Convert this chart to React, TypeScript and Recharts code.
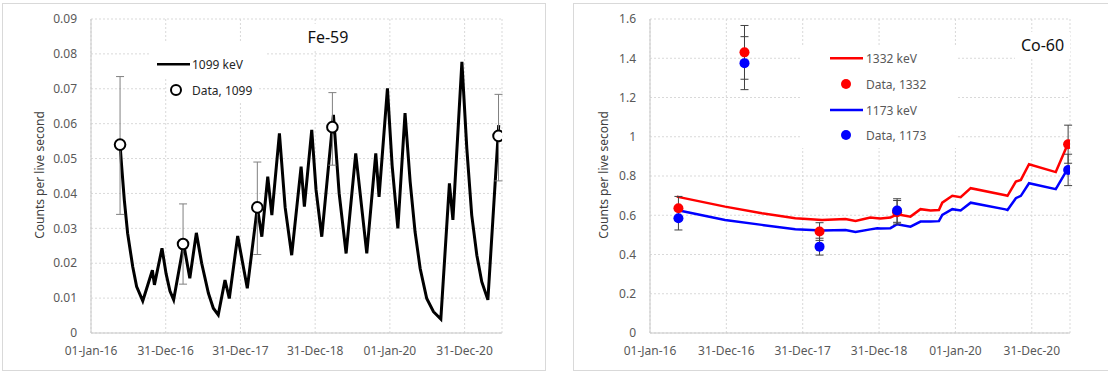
import React from 'react';
import { ComposedChart, Line, Scatter, XAxis, YAxis, CartesianGrid, ErrorBar, Legend } from 'recharts';

// ---- shared x axis (days since 01-Jan-16) ----
const xTickDays = [0, 365.25, 730.5, 1095.75, 1461, 1826.25];
const xTickLabels = ['01-Jan-16', '31-Dec-16', '31-Dec-17', '31-Dec-18', '01-Jan-20', '31-Dec-20'];
const xMaxDay = 2009;

// ---- Fe-59 ----
const feYTicks = [0, 0.01, 0.02, 0.03, 0.04, 0.05, 0.06, 0.07, 0.08, 0.09];
const feYLabels = ['0', '0.01', '0.02', '0.03', '0.04', '0.05', '0.06', '0.07', '0.08', '0.09'];
const feLineDays = [142, 150, 163, 179, 204, 223, 253, 300, 310, 347, 367, 386, 404, 453, 483, 515, 541, 574, 598, 622, 655, 676, 717, 764, 813, 835, 864, 884, 921, 949, 981, 1027, 1043, 1079, 1100, 1128, 1185, 1213, 1247, 1294, 1348, 1392, 1408, 1449, 1472, 1500, 1535, 1560, 1584, 1609, 1641, 1674, 1710, 1752, 1769, 1813, 1837, 1861, 1886, 1910, 1940, 1993];
const feLineVals = [0.054, 0.0477, 0.038, 0.0286, 0.019, 0.0133, 0.0092, 0.018, 0.0138, 0.0243, 0.017, 0.012, 0.0095, 0.0255, 0.0157, 0.0287, 0.02, 0.0114, 0.0071, 0.0052, 0.0152, 0.0099, 0.0278, 0.0128, 0.036, 0.0276, 0.0448, 0.0338, 0.0572, 0.036, 0.0223, 0.0477, 0.0362, 0.0582, 0.041, 0.0276, 0.0625, 0.04, 0.0228, 0.0515, 0.0228, 0.0515, 0.039, 0.0701, 0.048, 0.03, 0.063, 0.0434, 0.029, 0.0185, 0.0099, 0.0061, 0.004, 0.0429, 0.0324, 0.0777, 0.0529, 0.0338, 0.0223, 0.0147, 0.0095, 0.0596];
const feDataDays = [142, 450, 813, 1180, 1992];
const feDataVals = [0.054, 0.0255, 0.036, 0.059, 0.0565];
const feDataErrLow = [0.02, 0.0115, 0.0135, 0.0109, 0.0129];
const feDataErrHigh = [0.0195, 0.0115, 0.013, 0.0099, 0.0119];

// ---- Co-60 ----
const coYTicks = [0, 0.2, 0.4, 0.6, 0.8, 1, 1.2, 1.4, 1.6];
const coYLabels = ['0', '0.2', '0.4', '0.6', '0.8', '1', '1.2', '1.4', '1.6'];
const coLineDays = [128, 359, 535, 695, 823, 935, 983, 1054, 1087, 1103, 1150, 1182, 1246, 1294, 1342, 1382, 1398, 1446, 1486, 1534, 1700, 1710, 1750, 1774, 1813, 1941, 1997];
const co1332Line = [0.695, 0.644, 0.61, 0.585, 0.576, 0.581, 0.571, 0.588, 0.585, 0.583, 0.588, 0.605, 0.593, 0.631, 0.624, 0.627, 0.664, 0.699, 0.692, 0.738, 0.702, 0.699, 0.772, 0.78, 0.86, 0.82, 0.959];
const co1173Line = [0.627, 0.576, 0.551, 0.529, 0.522, 0.525, 0.515, 0.528, 0.534, 0.533, 0.534, 0.554, 0.542, 0.568, 0.568, 0.57, 0.602, 0.631, 0.624, 0.664, 0.63, 0.627, 0.687, 0.699, 0.763, 0.733, 0.835];
const coDataDays = [136, 452, 811, 1182, 2000];
const co1332Data = [0.636, 1.43, 0.517, 0.615, 0.962];
const co1332Err = [0.06, 0.137, 0.045, 0.06, 0.097];
const co1173Data = [0.585, 1.375, 0.44, 0.624, 0.831];
const co1173Err = [0.06, 0.135, 0.043, 0.06, 0.08];

// ---- build series tables ----
const feLine = feLineDays.map((d, i) => ({ day: d, v: feLineVals[i] }));
const feData = feDataDays.map((d, i) => ({ day: d, v: feDataVals[i], err: [feDataErrLow[i], feDataErrHigh[i]] }));
const co1332LineData = coLineDays.map((d, i) => ({ day: d, v: co1332Line[i] }));
const co1173LineData = coLineDays.map((d, i) => ({ day: d, v: co1173Line[i] }));
const co1332Pts = coDataDays.map((d, i) => ({ day: d, v: co1332Data[i], err: co1332Err[i] }));
const co1173Pts = coDataDays.map((d, i) => ({ day: d, v: co1173Data[i], err: co1173Err[i] }));

const FONT = '"Noto Sans", sans-serif';
const TICK = { fill: '#595959', fontSize: 12, fontFamily: FONT };
const GRID = '#d9d9d9';
const AXIS = '#c8c8c8';

const xFmt = (v: number) => xTickLabels[xTickDays.indexOf(v)] ?? '';
const feYFmt = (v: number) => feYLabels[feYTicks.indexOf(v)] ?? '';
const coYFmt = (v: number) => coYLabels[coYTicks.indexOf(v)] ?? '';

const HollowCircle = (p: any) => (
  <circle cx={p.cx} cy={p.cy} r={5.3} fill="#fff" stroke="#000" strokeWidth={2} />
);
const RedDot = (p: any) => <circle cx={p.cx} cy={p.cy} r={5} fill="#ff0000" />;
const BlueDot = (p: any) => <circle cx={p.cx} cy={p.cy} r={5} fill="#0000ff" />;

const yTitle = (x: number, y: number) => () => (
  <text
    x={x}
    y={y}
    transform={`rotate(-90, ${x}, ${y})`}
    textAnchor="middle"
    dominantBaseline="central"
    fill="#404040"
    fontSize={12}
    fontFamily={FONT}
  >
    Counts per live second
  </text>
);

const FeLegend = () => (
  <svg width={117} height={62} style={{ display: 'block' }}>
    <rect x={0} y={0} width={117} height={34} fill="#fff" />
    <rect x={17} y={34} width={90} height={26} fill="#fff" />
    <line x1={7} y1={21.3} x2={40} y2={21.3} stroke="#000" strokeWidth={2.5} />
    <text x={42} y={21.3} dominantBaseline="central" fontSize={12} fontFamily={FONT} fill="#262626">1099 keV</text>
    <circle cx={26} cy={47} r={5} fill="#fff" stroke="#000" strokeWidth={2} />
    <text x={42} y={47} dominantBaseline="central" fontSize={12} fontFamily={FONT} fill="#262626">Data, 1099</text>
  </svg>
);

const CoLegend = () => (
  <svg width={158} height={103} style={{ display: 'block' }}>
    <rect x={0} y={0} width={158} height={103} fill="#fff" />
    <line x1={30} y1={13.3} x2={63} y2={13.3} stroke="#ff0000" strokeWidth={2.5} />
    <text x={66} y={13.3} dominantBaseline="central" fontSize={12} fontFamily={FONT} fill="#595959">1332 keV</text>
    <circle cx={46} cy={39} r={5} fill="#ff0000" />
    <text x={66} y={39} dominantBaseline="central" fontSize={12} fontFamily={FONT} fill="#595959">Data, 1332</text>
    <line x1={30} y1={65} x2={63} y2={65} stroke="#0000ff" strokeWidth={2.5} />
    <text x={66} y={65} dominantBaseline="central" fontSize={12} fontFamily={FONT} fill="#595959">1173 keV</text>
    <circle cx={46} cy={90} r={5} fill="#0000ff" />
    <text x={66} y={90} dominantBaseline="central" fontSize={12} fontFamily={FONT} fill="#595959">Data, 1173</text>
  </svg>
);

const frameBorder: React.CSSProperties = {
  position: 'absolute', left: 0, top: 0, right: 0, bottom: 0,
  border: '1px solid #d9d9d9', boxSizing: 'border-box', pointerEvents: 'none',
};

const titleStyle = (left: number, top: number, width: number): React.CSSProperties => ({
  position: 'absolute', left, top, width, height: 27, lineHeight: '27px', textAlign: 'center',
  background: '#fff', fontFamily: FONT, fontSize: 16, color: '#111',
});

export default function App() {
  return (
    <div style={{ position: 'absolute', left: 0, top: 0, width: 1108, height: 372, background: '#fff', overflow: 'hidden' }}>
      {/* Fe-59 chart */}
      <div style={{ position: 'absolute', left: 2, top: 3, width: 544, height: 368 }}>
        <div style={frameBorder} />
        <ComposedChart width={544} height={368} margin={{ top: 16, right: 44, left: 39, bottom: 8 }}>
          <CartesianGrid stroke={GRID} strokeDasharray="2 2" />
          <XAxis
            type="number" dataKey="day" domain={[0, xMaxDay]} ticks={xTickDays} tickFormatter={xFmt}
            interval={0} tickLine={false} tickSize={0} tickMargin={13} height={30}
            axisLine={{ stroke: AXIS }} tick={TICK} allowDataOverflow
          />
          <YAxis
            type="number" domain={[0, 0.09]} ticks={feYTicks} tickFormatter={feYFmt}
            interval={0} tickLine={false} tickSize={0} tickMargin={14} width={50}
            axisLine={{ stroke: AXIS }} tick={TICK} allowDataOverflow
            label={{ content: yTitle(37, 172) }}
          />
          <Line data={feLine} dataKey="v" type="linear" stroke="#000" strokeWidth={3} dot={false} activeDot={false} isAnimationActive={false} />
          <Scatter data={feData} dataKey="v" shape={HollowCircle} isAnimationActive={false}>
            <ErrorBar dataKey="err" direction="y" width={4} stroke="#808080" strokeWidth={1} isAnimationActive={false} />
          </Scatter>
          <Legend
            layout="horizontal" verticalAlign="middle" align="center"
            wrapperStyle={{ left: 148, top: 40, width: 117, height: 62 }}
            content={() => <FeLegend />}
          />
        </ComposedChart>
        <div style={titleStyle(301, 21, 50)}>Fe-59</div>
      </div>

      {/* Co-60 chart */}
      <div style={{ position: 'absolute', left: 573, top: 3, width: 540, height: 368 }}>
        <div style={frameBorder} />
        <ComposedChart width={540} height={368} margin={{ top: 16, right: 43, left: 27, bottom: 8 }}>
          <CartesianGrid stroke={GRID} strokeDasharray="2 2" />
          <XAxis
            type="number" dataKey="day" domain={[0, xMaxDay]} ticks={xTickDays} tickFormatter={xFmt}
            interval={0} tickLine={false} tickSize={0} tickMargin={13} height={30}
            axisLine={{ stroke: AXIS }} tick={TICK} allowDataOverflow
          />
          <YAxis
            type="number" domain={[0, 1.6]} ticks={coYTicks} tickFormatter={coYFmt}
            interval={0} tickLine={false} tickSize={0} tickMargin={14} width={50}
            axisLine={{ stroke: AXIS }} tick={TICK} allowDataOverflow
            label={{ content: yTitle(30, 172) }}
          />
          <Line data={co1332LineData} dataKey="v" type="linear" stroke="#ff0000" strokeWidth={2.5} dot={false} activeDot={false} isAnimationActive={false} />
          <Line data={co1173LineData} dataKey="v" type="linear" stroke="#0000ff" strokeWidth={2.5} dot={false} activeDot={false} isAnimationActive={false} />
          <Scatter data={co1332Pts} dataKey="v" shape={RedDot} isAnimationActive={false}>
            <ErrorBar dataKey="err" direction="y" width={4} stroke="#404040" strokeWidth={1} isAnimationActive={false} />
          </Scatter>
          <Scatter data={co1173Pts} dataKey="v" shape={BlueDot} isAnimationActive={false}>
            <ErrorBar dataKey="err" direction="y" width={4} stroke="#404040" strokeWidth={1} isAnimationActive={false} />
          </Scatter>
          <Legend
            layout="horizontal" verticalAlign="middle" align="center"
            wrapperStyle={{ left: 227, top: 42, width: 158, height: 103 }}
            content={() => <CoLegend />}
          />
        </ComposedChart>
        <div style={titleStyle(442, 29, 55)}>Co-60</div>
      </div>
    </div>
  );
}
